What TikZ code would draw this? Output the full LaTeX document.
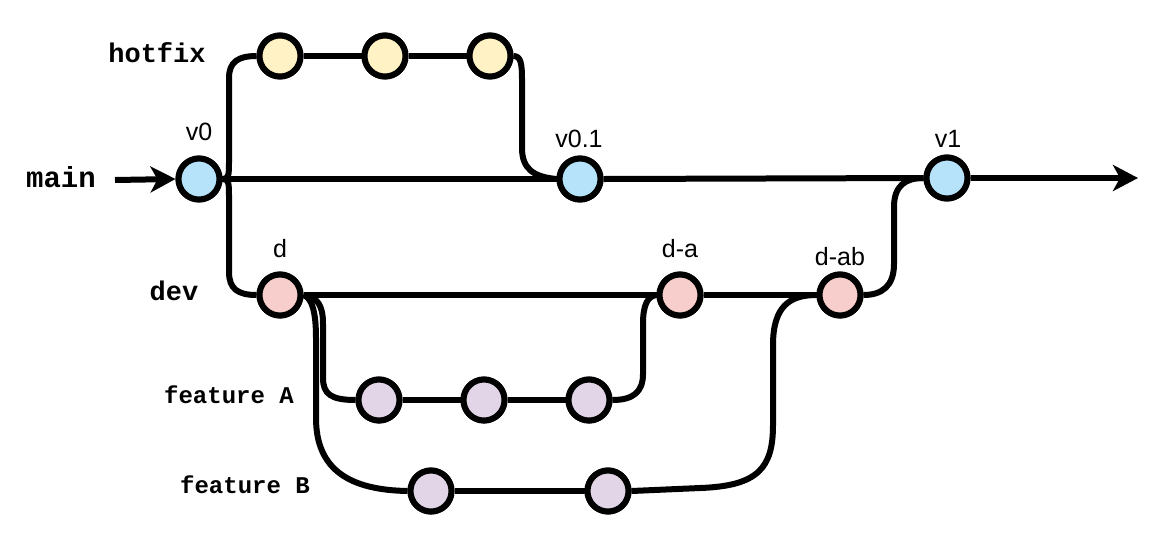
\documentclass[tikz,border=0pt]{standalone}
\usepackage{fontspec}
\setmainfont{Liberation Sans}
\newfontfamily\codefont{Liberation Mono}
\usetikzlibrary{arrows.meta}
\definecolor{mainblue}{HTML}{B6E3FA}
\definecolor{hotyellow}{HTML}{FFF3C6}
\definecolor{devpink}{HTML}{F7CECC}
\definecolor{featpurple}{HTML}{E1D5E7}
\tikzset{
  commit/.style={circle, draw=black, line width=6pt, minimum size=41pt, inner sep=0pt},
  verlabel/.style={anchor=base, inner sep=0pt, font=\fontsize{25pt}{25pt}\selectfont},
  branchname/.style={anchor=base, inner sep=0pt},
  conn/.style={line width=6pt, line join=round},
  bigtip/.style={-{Stealth[length=25pt,width=26pt,inset=7pt]}}
}
\begin{document}
\begin{tikzpicture}[x=1pt,y=-1pt]
\useasboundingbox (0,0) rectangle (1161,542);

% ends of the main line
\coordinate (mstart) at (115,180);
\coordinate (mend) at (1138,178);

% commits
\node[commit, fill=mainblue] (v0)  at (199,179) {};
\node[commit, fill=mainblue] (v01) at (580,179) {};
\node[commit, fill=mainblue] (v1)  at (947,178) {};
\node[commit, fill=hotyellow] (hf1) at (280,56) {};
\node[commit, fill=hotyellow] (hf2) at (385,56) {};
\node[commit, fill=hotyellow] (hf3) at (490,56) {};
\node[commit, fill=devpink] (d)   at (280,295) {};
\node[commit, fill=devpink] (da)  at (680,295) {};
\node[commit, fill=devpink] (dab) at (840,295) {};
\node[commit, fill=featpurple] (fa1) at (379,400) {};
\node[commit, fill=featpurple] (fa2) at (484,400) {};
\node[commit, fill=featpurple] (fa3) at (589,400) {};
\node[commit, fill=featpurple] (fb1) at (431,491) {};
\node[commit, fill=featpurple] (fb2) at (608,491) {};

% main line
\draw[conn, bigtip] (mstart) -- (v0.west);
\draw[conn] (v0.east) -- (v01.west);
\draw[conn] (v01.east) -- (v1.west);
\draw[conn, bigtip] (v1.east) -- (mend);

% hotfix branch
\draw[conn] (v0.east) .. controls (229,179) and (229,175) .. (229,160) -- (229,78)
  .. controls (229,62) and (238,56) .. (hf1.west);
\draw[conn] (hf1) -- (hf2);
\draw[conn] (hf2) -- (hf3);
\draw[conn] (hf3.east) .. controls (521,56) and (522,64) .. (522,80) -- (522,148)
  .. controls (522,170) and (535,177) .. (v01.west);

% dev branch
\draw[conn] (v0.east) .. controls (229,179) and (229,183) .. (229,198) -- (229,272)
  .. controls (229,289) and (238,295) .. (d.west);
\draw[conn] (d) -- (da);
\draw[conn] (da) -- (dab);
\draw[conn] (dab.east) .. controls (882,295) and (894,286) .. (894,264) -- (894,207)
  .. controls (894,186) and (905,178) .. (v1.west);

% feature A
\draw[conn] (d.east) .. controls (318,297) and (323,306) .. (323,324) -- (323,378)
  .. controls (323,394) and (331,400) .. (fa1.west);
\draw[conn] (fa1) -- (fa2);
\draw[conn] (fa2) -- (fa3);
\draw[conn] (fa3.east) .. controls (633,400) and (643,392) .. (643,374) -- (643,324)
  .. controls (643,304) and (648,296) .. (da.west);

% feature B
\draw[conn] (d.east) .. controls (312,298) and (316,312) .. (316,338) -- (316,418)
  .. controls (316,470) and (350,490) .. (fb1.west);
\draw[conn] (fb1) -- (fb2);
\draw[conn] (fb2.east) -- (700,488) .. controls (758,486) and (773,468) .. (773,425)
  -- (773,345) .. controls (773,306) and (790,295) .. (dab.west);

% commits redrawn over the connector ends
\foreach \c/\f in {v0/mainblue,v01/mainblue,v1/mainblue,hf1/hotyellow,hf2/hotyellow,hf3/hotyellow,d/devpink,da/devpink,dab/devpink,fa1/featpurple,fa2/featpurple,fa3/featpurple,fb1/featpurple,fb2/featpurple}
  \node[commit, fill=\f] at (\c) {};

% branch names
\node[branchname, font=\codefont\bfseries\fontsize{29pt}{29pt}\selectfont] (lmain) at (61,187) {main};
\node[branchname, font=\codefont\bfseries\fontsize{27pt}{27pt}\selectfont] (lhot) at (157,62) {hotfix};
\node[branchname, font=\codefont\bfseries\fontsize{27pt}{27pt}\selectfont] (ldev) at (174,300) {dev};
\node[branchname, font=\codefont\bfseries\fontsize{24pt}{24pt}\selectfont] (lfa) at (229,403) {feature A};
\node[branchname, font=\codefont\bfseries\fontsize{24pt}{24pt}\selectfont] (lfb) at (245,493) {feature B};

% version tags
\node[verlabel] (tv0)  at (199,140) {v0};
\node[verlabel] (tv01) at (579,147) {v0.1};
\node[verlabel] (tv1)  at (948,147) {v1};
\node[verlabel] (td)   at (280,257) {d};
\node[verlabel] (tda)  at (680,257) {d-a};
\node[verlabel] (tdab) at (840,265) {d-ab};
\end{tikzpicture}
\end{document}
